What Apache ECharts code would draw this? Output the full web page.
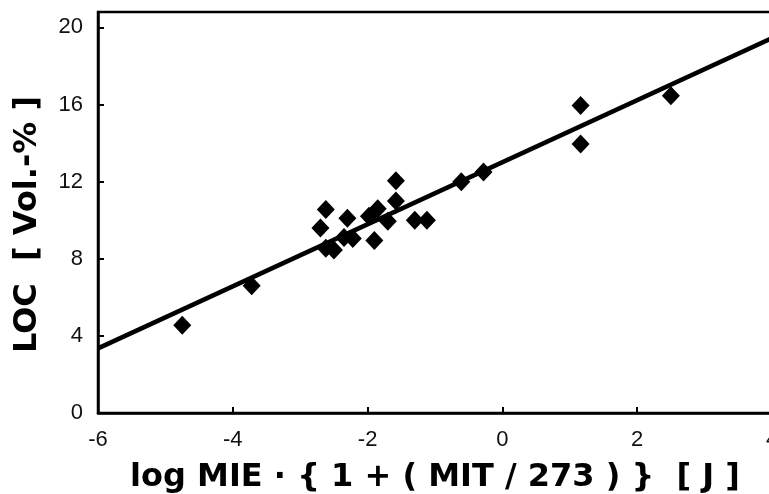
<!DOCTYPE html>
<html>
<head>
<meta charset="utf-8">
<script src="https://cdn.jsdelivr.net/npm/echarts@6/dist/echarts.min.js"></script>
<style>
  html, body { margin: 0; padding: 0; background: #fff; }
  #chart { width: 769px; height: 494px; }
</style>
</head>
<body>
<div id="chart"></div>
<script>
// Measured points: log MIE·{1+(MIT/273)} [J] against LOC [Vol.-%]
const logMIE = [-4.75, -3.72, -2.62, -2.70, -2.62, -2.50, -2.30, -2.35, -2.22, -1.90, -1.98,
                -1.85, -1.70, -1.58, -1.58, -1.30, -1.12, -0.61, -0.28, 1.16, 1.16, 2.50];
const loc = [4.55, 6.60, 10.55, 9.60, 8.55, 8.45, 10.10, 9.10, 9.05, 8.95, 10.20,
             10.60, 9.95, 12.05, 11.00, 10.00, 10.00, 12.00, 12.50, 15.95, 13.95, 16.45];

// Fitted regression line end points
const fitX = [-6, 4];
const fitY = [3.35, 19.45];

const xTicks = [-6, -4, -2, 0, 2, 4];
const yTicks = [0, 4, 8, 12, 16, 20];

const chart = echarts.init(document.getElementById('chart'), null, { renderer: 'canvas' });

const labelFont = { color: '#111', fontFamily: 'Liberation Sans', fontSize: 22 };
const titleFont = { color: '#000', fontFamily: 'DejaVu Sans', fontWeight: 'bold', fontSize: 32 };

chart.setOption({
  animation: false,
  backgroundColor: '#fff',
  grid: {
    left: 98, top: 12, right: -3, bottom: 81,
    outerBoundsMode: 'none',
    containLabel: false,
    show: true, borderColor: '#000', borderWidth: 2.5, backgroundColor: 'transparent'
  },
  xAxis: {
    type: 'value', min: -6, max: 4, interval: 2,
    name: 'log MIE · { 1 + ( MIT / 273 ) }  [ J ]',
    nameLocation: 'middle', nameGap: 49, nameTextStyle: titleFont,
    axisLine: { show: true, onZero: false, lineStyle: { color: '#000', width: 2.5 } },
    axisTick: { show: true, inside: true, length: 6, lineStyle: { color: '#000', width: 2 } },
    axisLabel: Object.assign({ margin: 16, formatter: v => xTicks.includes(v) ? String(v) : '' }, labelFont),
    splitLine: { show: false }
  },
  yAxis: {
    type: 'value', min: 0, max: 20.8, interval: 4,
    name: 'LOC  [ Vol.-% ]',
    nameLocation: 'middle', nameGap: 54, nameRotate: 90,
    nameTextStyle: Object.assign({ padding: [0, 24, 0, 0] }, titleFont),
    axisLine: { show: true, onZero: false, lineStyle: { color: '#000', width: 2.5 } },
    axisTick: { show: true, inside: true, length: 6, lineStyle: { color: '#000', width: 2 } },
    axisLabel: Object.assign({ margin: 15, formatter: v => yTicks.includes(v) ? String(v) : '' }, labelFont),
    splitLine: { show: false }
  },
  series: [
    {
      type: 'line',
      data: fitX.map((x, i) => [x, fitY[i]]),
      symbol: 'none',
      lineStyle: { color: '#000', width: 4.5 },
      z: 2
    },
    {
      type: 'scatter',
      data: logMIE.map((x, i) => [x, loc[i]]),
      symbol: 'diamond',
      symbolSize: [18, 19],
      itemStyle: { color: '#000', opacity: 1 },
      z: 3
    }
  ]
});
</script>
</body>
</html>
